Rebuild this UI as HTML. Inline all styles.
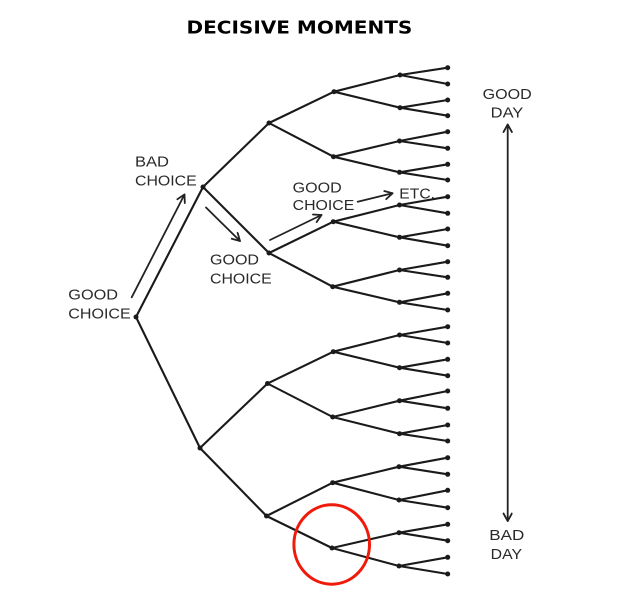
<!DOCTYPE html>
<html><head><meta charset="utf-8"><style>
html,body{margin:0;padding:0;background:#fff;}
svg{display:block;}
</style></head><body>
<svg width="637" height="595" viewBox="0 0 637 595" xmlns="http://www.w3.org/2000/svg">
<defs>
<marker id="ah" markerWidth="12" markerHeight="12" refX="9" refY="5" orient="auto-start-reverse" markerUnits="userSpaceOnUse">
<path d="M1.5,0.8 L9,5 L1.5,9.2" fill="none" stroke="#222" stroke-width="1.8" stroke-linecap="round" stroke-linejoin="round"/>
</marker>
</defs>
<rect width="637" height="595" fill="#fff"/>
<text x="186.5" y="33.3" font-family="DejaVu Sans, Liberation Sans, sans-serif" font-weight="bold" font-size="17.5" textLength="225.8" lengthAdjust="spacingAndGlyphs" fill="#000">DECISIVE MOMENTS</text>

<g stroke="#1a1a1a" stroke-width="2.1" fill="none" stroke-linecap="round">
<path d="M136,317 L203,187 M136,317 L200,448"/>
<path d="M203,187 L269,123 M203,187 L269,253 M200,448 L267.5,383.5 M200,448 L266.5,516"/>
<path d="M269,123 L334,91.7 M269,123 L333.5,156.7 M269,253 L333.3,221.7 M269,253 L332.7,286.7 M267.5,383.5 L333.3,351.7 M267.5,383.5 L332.7,417 M266.5,516 L332.7,482.7 M266.5,516 L332,548"/>
<path d="M334,91.7 L400,75 M334,91.7 L400,107.7 M333.5,156.7 L399.5,141 M333.5,156.7 L399.5,172.3 M333.3,221.7 L399.5,205 M333.3,221.7 L399.5,237.3 M332.7,286.7 L399.5,270 M332.7,286.7 L399.5,302.3 M333.3,351.7 L399.5,335 M333.3,351.7 L399.5,367.7 M332.7,417 L399.5,400.7 M332.7,417 L399.5,433.7 M332.7,482.7 L399,466.7 M332.7,482.7 L399,500 M332,548 L399,532.7 M332,548 L399,566"/>
<path d="M400,75 L447.7,67.7 M400,75 L447.7,84
M400,107.7 L447.7,100 M400,107.7 L447.7,115.7
M399.5,141 L447.7,131.7 M399.5,141 L447.7,148.3
M399.5,172.3 L447.7,164.3 M399.5,172.3 L447.7,180
M399.5,205 L447.7,196.7 M399.5,205 L447.7,213.3
M399.5,237.3 L447.7,229 M399.5,237.3 L447.7,245.7
M399.5,270 L447.7,261.7 M399.5,270 L447.7,277.3
M399.5,302.3 L447.7,293.3 M399.5,302.3 L447.7,310
M399.5,335 L447.7,326.7 M399.5,335 L447.7,343
M399.5,367.7 L447.7,359.3 M399.5,367.7 L447.7,375.7
M399.5,400.7 L447.7,391 M399.5,400.7 L447.7,408.3
M399.5,433.7 L447.7,425 M399.5,433.7 L447.7,441
M399,466.7 L447.7,457.7 M399,466.7 L447.7,474.3
M399,500 L447.7,490.3 M399,500 L447.7,507.7
M399,532.7 L447.7,524.3 M399,532.7 L447.7,540.7
M399,566 L447.7,557.3 M399,566 L447.7,574"/>
</g>

<g fill="#1a1a1a">
<circle cx="136" cy="317" r="2.5"/>
<circle cx="203" cy="187" r="2.5"/><circle cx="200" cy="448" r="2.5"/>
<circle cx="269" cy="123" r="2.5"/><circle cx="269" cy="253" r="2.5"/><circle cx="267.5" cy="383.5" r="2.5"/><circle cx="266.5" cy="516" r="2.5"/>
<circle cx="334" cy="91.7" r="2.5"/><circle cx="333.5" cy="156.7" r="2.5"/><circle cx="333.3" cy="221.7" r="2.5"/><circle cx="332.7" cy="286.7" r="2.5"/>
<circle cx="333.3" cy="351.7" r="2.5"/><circle cx="332.7" cy="417" r="2.5"/><circle cx="332.7" cy="482.7" r="2.5"/><circle cx="332" cy="548" r="2.5"/>
<circle cx="400" cy="75" r="2.5"/><circle cx="400" cy="107.7" r="2.5"/><circle cx="399.5" cy="141" r="2.5"/><circle cx="399.5" cy="172.3" r="2.5"/>
<circle cx="399.5" cy="205" r="2.5"/><circle cx="399.5" cy="237.3" r="2.5"/><circle cx="399.5" cy="270" r="2.5"/><circle cx="399.5" cy="302.3" r="2.5"/>
<circle cx="399.5" cy="335" r="2.5"/><circle cx="399.5" cy="367.7" r="2.5"/><circle cx="399.5" cy="400.7" r="2.5"/><circle cx="399.5" cy="433.7" r="2.5"/>
<circle cx="399" cy="466.7" r="2.5"/><circle cx="399" cy="500" r="2.5"/><circle cx="399" cy="532.7" r="2.5"/><circle cx="399" cy="566" r="2.5"/>
<circle cx="447.7" cy="67.7" r="2.5"/><circle cx="447.7" cy="84" r="2.5"/><circle cx="447.7" cy="100" r="2.5"/><circle cx="447.7" cy="115.7" r="2.5"/>
<circle cx="447.7" cy="131.7" r="2.5"/><circle cx="447.7" cy="148.3" r="2.5"/><circle cx="447.7" cy="164.3" r="2.5"/><circle cx="447.7" cy="180" r="2.5"/>
<circle cx="447.7" cy="196.7" r="2.5"/><circle cx="447.7" cy="213.3" r="2.5"/><circle cx="447.7" cy="229" r="2.5"/><circle cx="447.7" cy="245.7" r="2.5"/>
<circle cx="447.7" cy="261.7" r="2.5"/><circle cx="447.7" cy="277.3" r="2.5"/><circle cx="447.7" cy="293.3" r="2.5"/><circle cx="447.7" cy="310" r="2.5"/>
<circle cx="447.7" cy="326.7" r="2.5"/><circle cx="447.7" cy="343" r="2.5"/><circle cx="447.7" cy="359.3" r="2.5"/><circle cx="447.7" cy="375.7" r="2.5"/>
<circle cx="447.7" cy="391" r="2.5"/><circle cx="447.7" cy="408.3" r="2.5"/><circle cx="447.7" cy="425" r="2.5"/><circle cx="447.7" cy="441" r="2.5"/>
<circle cx="447.7" cy="457.7" r="2.5"/><circle cx="447.7" cy="474.3" r="2.5"/><circle cx="447.7" cy="490.3" r="2.5"/><circle cx="447.7" cy="507.7" r="2.5"/>
<circle cx="447.7" cy="524.3" r="2.5"/><circle cx="447.7" cy="540.7" r="2.5"/><circle cx="447.7" cy="557.3" r="2.5"/><circle cx="447.7" cy="574" r="2.5"/>
</g>

<g stroke="#222" stroke-width="1.8" fill="none" stroke-linecap="round">
<line x1="131.7" y1="297.3" x2="184.5" y2="194.5" marker-end="url(#ah)"/>
<line x1="206" y1="207.5" x2="240" y2="241" marker-end="url(#ah)"/>
<line x1="270" y1="240" x2="321.5" y2="215" marker-end="url(#ah)"/>
<line x1="357.7" y1="201.7" x2="392.5" y2="193.3" marker-end="url(#ah)"/>
<line x1="507.7" y1="124.5" x2="507.7" y2="521" marker-start="url(#ah)" marker-end="url(#ah)"/>
</g>

<g font-family="Liberation Sans, Arial, sans-serif" font-size="15" fill="#2a2a2a">
<text x="68.3" y="299.3" textLength="49.7" lengthAdjust="spacingAndGlyphs">GOOD</text>
<text x="68.3" y="318.3" textLength="62.4" lengthAdjust="spacingAndGlyphs">CHOICE</text>
<text x="135" y="166.7" textLength="34" lengthAdjust="spacingAndGlyphs">BAD</text>
<text x="135" y="185.7" textLength="61.7" lengthAdjust="spacingAndGlyphs">CHOICE</text>
<text x="210" y="264.3" textLength="49" lengthAdjust="spacingAndGlyphs">GOOD</text>
<text x="210" y="283.3" textLength="61.7" lengthAdjust="spacingAndGlyphs">CHOICE</text>
<text x="292.7" y="192.3" textLength="49" lengthAdjust="spacingAndGlyphs">GOOD</text>
<text x="292.7" y="210" textLength="61.6" lengthAdjust="spacingAndGlyphs">CHOICE</text>
<text x="399.3" y="198.3" textLength="35.7" lengthAdjust="spacingAndGlyphs">ETC.</text>
<text x="482.7" y="99" textLength="49" lengthAdjust="spacingAndGlyphs">GOOD</text>
<text x="490.7" y="117.3" textLength="32.6" lengthAdjust="spacingAndGlyphs">DAY</text>
<text x="489.3" y="540" textLength="35" lengthAdjust="spacingAndGlyphs">BAD</text>
<text x="490.7" y="559" textLength="31.3" lengthAdjust="spacingAndGlyphs">DAY</text>
</g>

<ellipse cx="331.7" cy="544.5" rx="37.8" ry="39.7" fill="none" stroke="#f01a0a" stroke-width="3"/>
</svg>
</body></html>
